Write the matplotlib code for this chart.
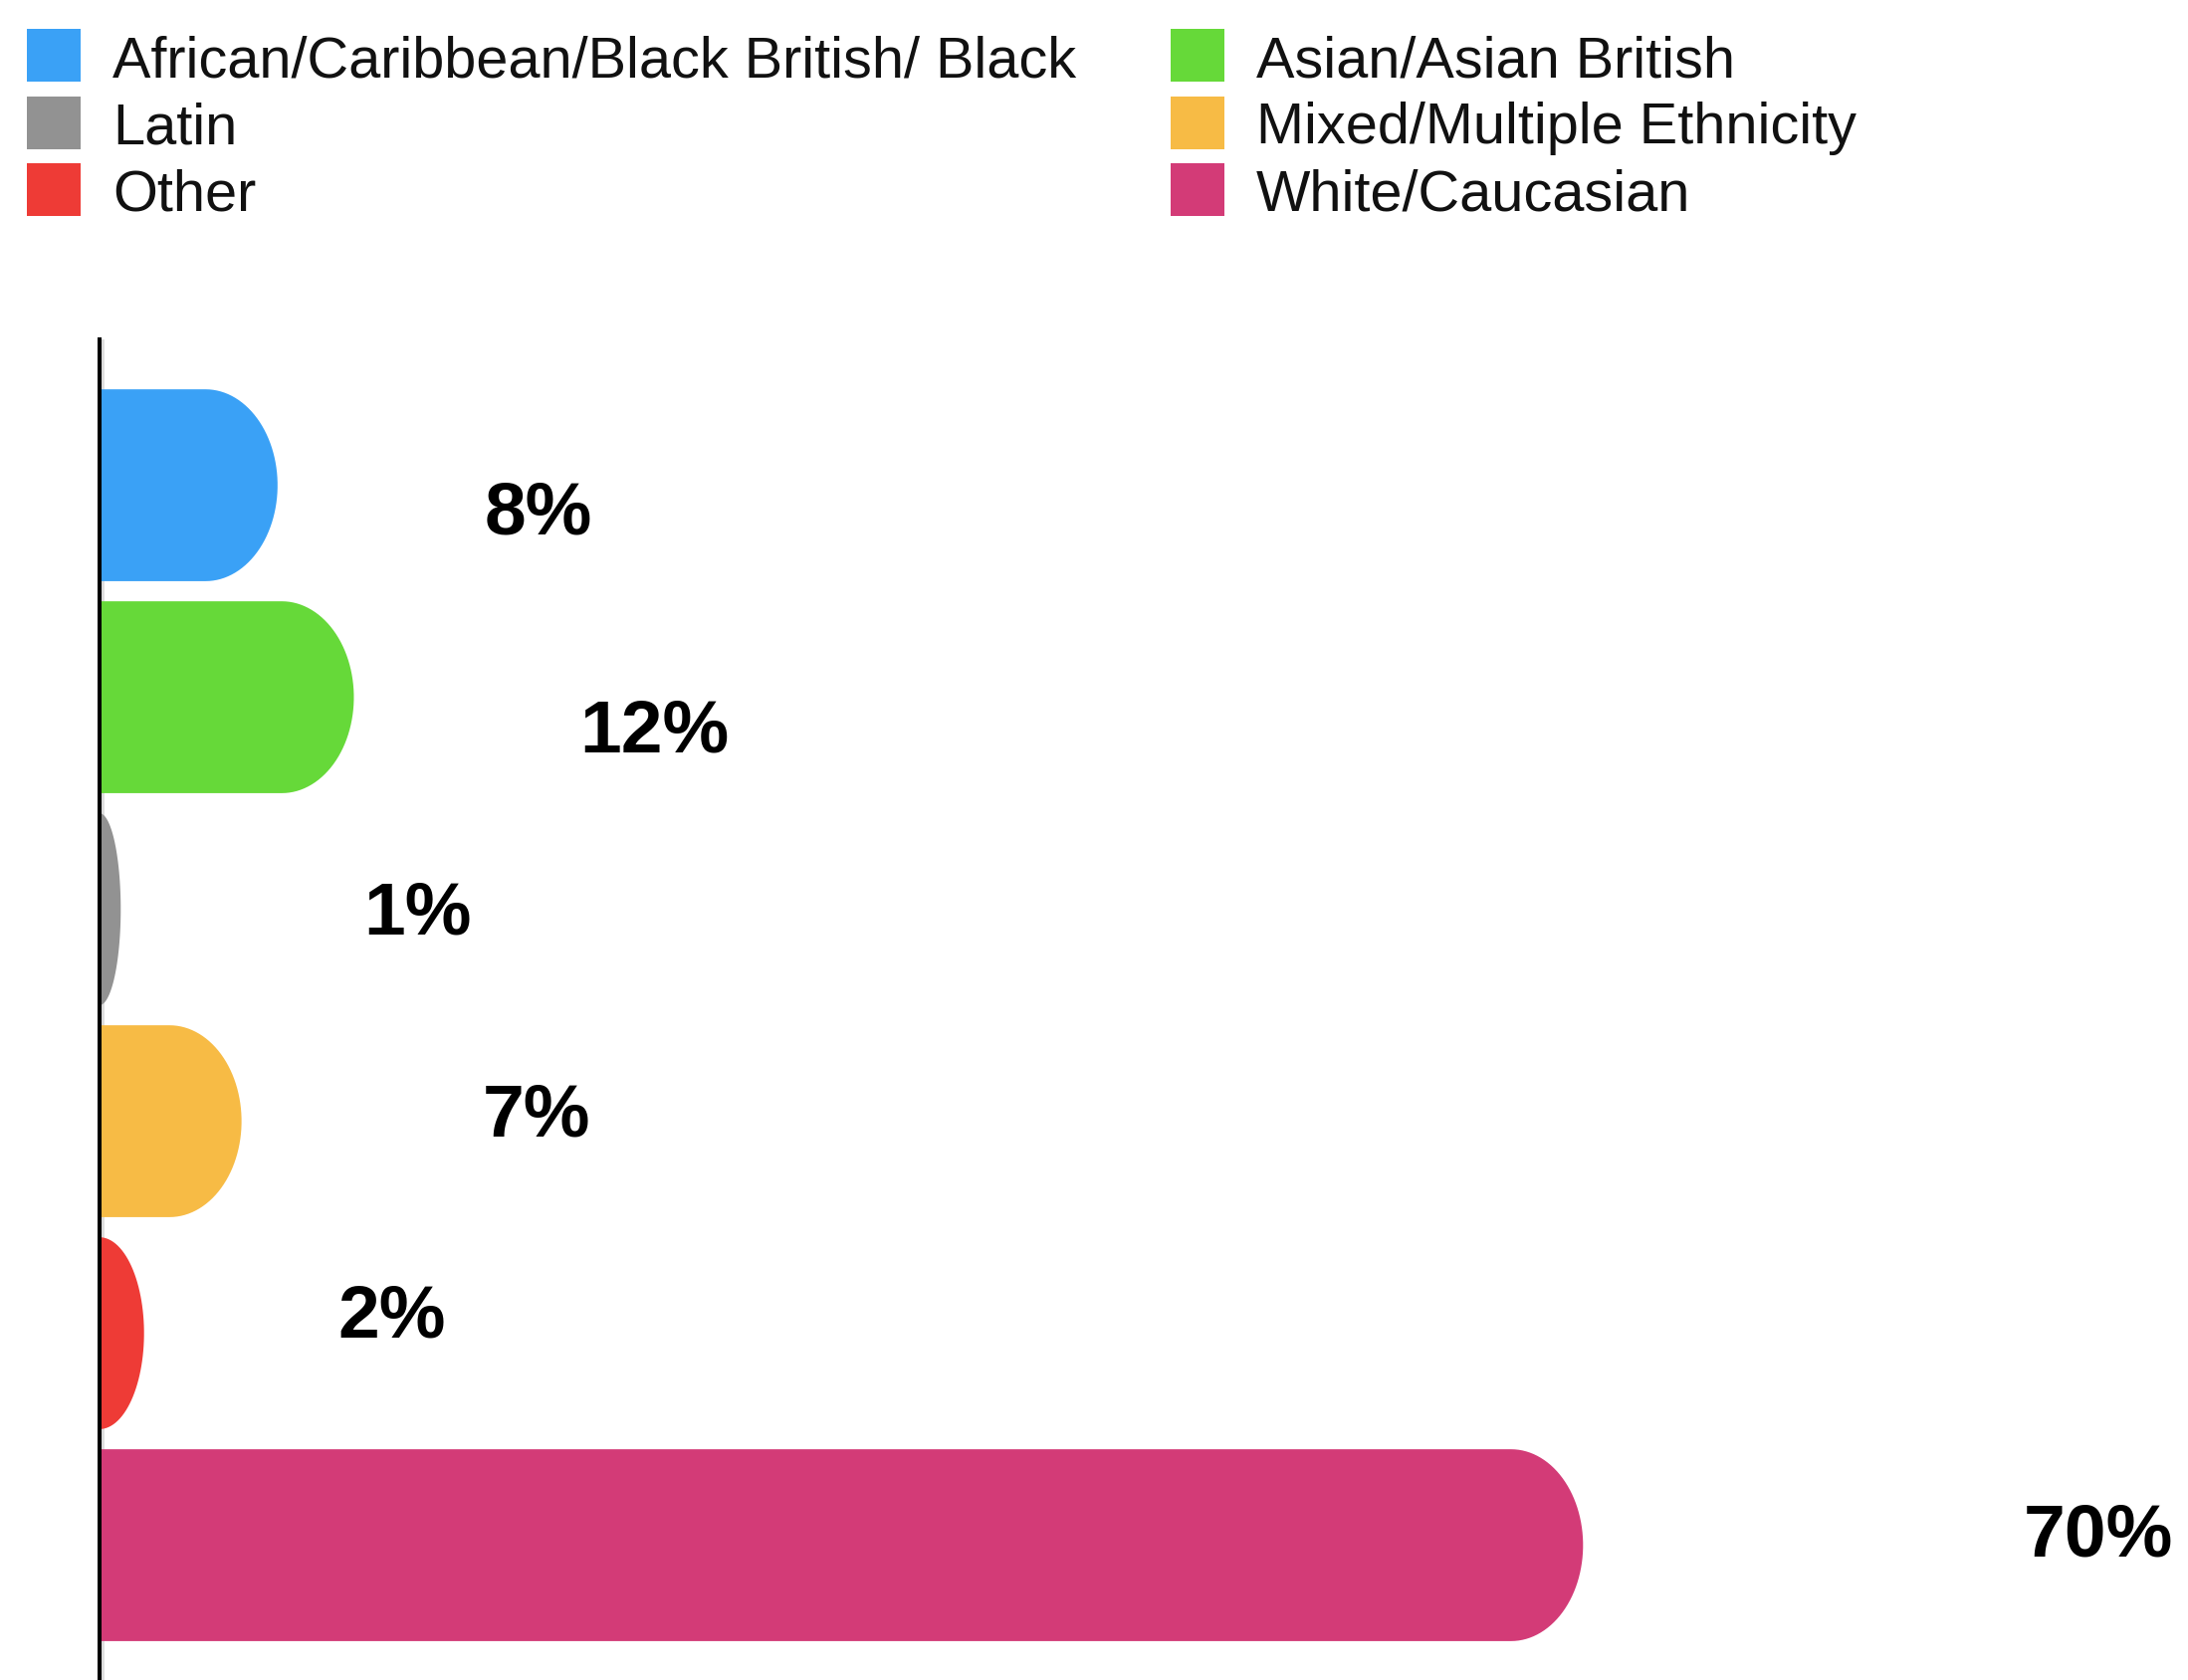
import numpy as np
import matplotlib
matplotlib.use("Agg")
import matplotlib.pyplot as plt
from matplotlib.patches import Polygon, Rectangle

categories = ["African/Caribbean/Black British/ Black", "Asian/Asian British", "Latin",
              "Mixed/Multiple Ethnicity", "Other", "White/Caucasian"]
values = [8.4, 12.0, 1.0, 6.7, 2.1, 70.0]
value_labels = ["8%", "12%", "1%", "7%", "2%", "70%"]
colors = ["#3AA1F6", "#66D939", "#929292", "#F7BB45", "#EE3B36", "#D33B77"]

# where the percentage labels sit: x in data units, y offset from the bar centre
label_x = [20.69, 26.16, 15.0, 20.6, 13.8, 94.3]
label_dy = [0.228, 0.26, 0.115, 0.07, 0.02, 0.052]

# legend is two columns, filled column by column
legend_cols = [[0, 2, 4], [1, 3, 5]]

W, H = 2198, 1688


def rounded_bar(ax, y, w, h, color, rx=3.4):
    """Bar with a flat left side and an elliptic right end."""
    r = min(rx, w)
    t = np.linspace(-np.pi / 2, np.pi / 2, 60)
    xs = np.concatenate([[0], (w - r) + r * np.cos(t), [0]])
    ys = np.concatenate([[y - h / 2], y + (h / 2) * np.sin(t), [y + h / 2]])
    ax.add_patch(Polygon(np.column_stack([xs, ys]), closed=True,
                         facecolor=color, edgecolor="none", zorder=1))


def main():
    plt.rcParams['font.family'] = ['Liberation Sans', 'DejaVu Sans']
    fig = plt.figure(figsize=(W / 100, H / 100), dpi=100)
    ax = fig.add_axes([100 / W, 0, 1 - 100 / W, 1 - 341 / H])

    # faint grey halo of the axis line, sits under the bars
    ax.axvline(0, color='#DDDDDD', lw=7, zorder=0)

    for i, (v, c) in enumerate(zip(values, colors)):
        rounded_bar(ax, i, v, 0.905, c)
        ax.text(label_x[i], i + label_dy[i], value_labels[i], ha='center',
                va='baseline', fontsize=54, fontweight='bold', clip_on=False)

    ax.set_xlim(0, (W - 100) / 21.29)
    ax.set_ylim(5.636, -0.688)
    ax.set_xticks([])
    ax.set_yticks([])
    for side in ['top', 'right', 'bottom']:
        ax.spines[side].set_visible(False)
    ax.spines['left'].set_color('black')
    ax.spines['left'].set_linewidth(2.9)

    # legend, drawn by hand so the two columns sit where they do in the original
    col_x = [27, 1176]
    for col, idx in enumerate(legend_cols):
        for row, k in enumerate(idx):
            top = 29 + row * 67.5
            fig.add_artist(Rectangle((col_x[col] / W, 1 - (top + 53) / H), 54 / W, 53 / H,
                                     transform=fig.transFigure, facecolor=colors[k],
                                     edgecolor='none'))
            fig.text((col_x[col] + 86) / W, 1 - (77 + row * 67.5) / H, categories[k],
                     fontsize=41.5, va='baseline', ha='left', color='#111111')

    fig.savefig('out.png', dpi=100)
    plt.close(fig)


if __name__ == "__main__":
    main()
